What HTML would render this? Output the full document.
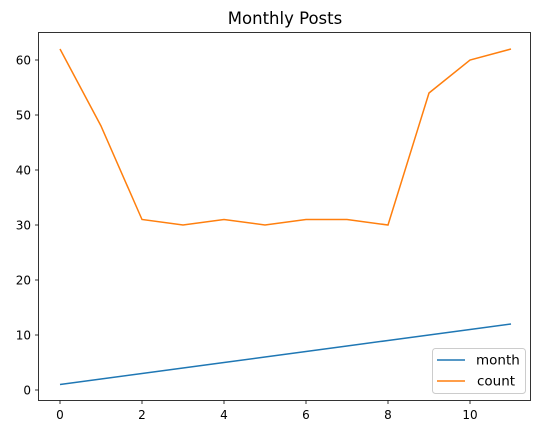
<!DOCTYPE html>
<html><head><meta charset="utf-8"><style>
body{margin:0;background:#fff;}
svg text{font-family:"DejaVu Sans","Liberation Sans",sans-serif;fill:#000;}
</style></head><body>
<svg id="chart" width="543" height="435" xmlns="http://www.w3.org/2000/svg">
<rect x="0" y="0" width="543" height="435" fill="#fff"/>
<text x="285" y="24" font-size="16.5" text-anchor="middle">Monthly Posts</text>
<g id="grid"></g>
<g id="series"></g>
<rect x="38.5" y="32.5" width="492" height="368" fill="none" stroke="#000" stroke-width="0.8"/>
<g>
<rect x="432.5" y="348.5" width="93" height="45" rx="3" fill="#fff" stroke="#ccc"/>
<line x1="437" y1="360" x2="465" y2="360" stroke="#1f77b4" stroke-width="1.5"/>
<text x="476" y="364.5" font-size="13.5">month</text>
<line x1="437" y1="381" x2="465" y2="381" stroke="#ff7f0e" stroke-width="1.5"/>
<text x="477" y="385.5" font-size="13.5">count</text>
</g>
</svg>
<script>
const xIndex=[0,1,2,3,4,5,6,7,8,9,10,11];
const monthValues=[1,2,3,4,5,6,7,8,9,10,11,12];
const countValues=[62,48,31,30,31,30,31,31,30,54,60,62];
const xTicks=[0,2,4,6,8,10];
const yTicks=[0,10,20,30,40,50,60];
const NS="http://www.w3.org/2000/svg";
function xs(v){return 60+v*41;}
function ys(v){return 390-v*5.5;}
const g=document.getElementById('grid');
xTicks.forEach(t=>{
 const l=document.createElementNS(NS,'line');
 l.setAttribute('x1',xs(t));l.setAttribute('x2',xs(t));l.setAttribute('y1',400.5);l.setAttribute('y2',404);
 l.setAttribute('stroke','#000');l.setAttribute('stroke-width','0.8');
 
 
 g.appendChild(l);
 const tx=document.createElementNS(NS,'text');
 tx.setAttribute('x',xs(t));tx.setAttribute('y',419);tx.setAttribute('font-size','12');tx.setAttribute('text-anchor','middle');
 tx.textContent=t;
 
 
 g.appendChild(tx);
});
yTicks.forEach(t=>{
 const l=document.createElementNS(NS,'line');
 l.setAttribute('x1',35);l.setAttribute('x2',38.5);l.setAttribute('y1',ys(t));l.setAttribute('y2',ys(t));
 l.setAttribute('stroke','#000');l.setAttribute('stroke-width','0.8');
 
 
 g.appendChild(l);
 const tx=document.createElementNS(NS,'text');
 tx.setAttribute('x',31);tx.setAttribute('y',ys(t)+4.3);tx.setAttribute('font-size','12');tx.setAttribute('text-anchor','end');
 tx.textContent=t;
 
 
 g.appendChild(tx);
});
const s=document.getElementById('series');
function line(vals,color,name){
 const p=document.createElementNS(NS,'polyline');
 p.setAttribute('points',vals.map((v,i)=>xs(xIndex[i])+','+ys(v)).join(' '));
 p.setAttribute('fill','none');p.setAttribute('stroke',color);p.setAttribute('stroke-width','1.5');
 
 
 s.appendChild(p);
}
line(monthValues,'#1f77b4','month-line');
line(countValues,'#ff7f0e','count-line');
</script>
</body></html>
